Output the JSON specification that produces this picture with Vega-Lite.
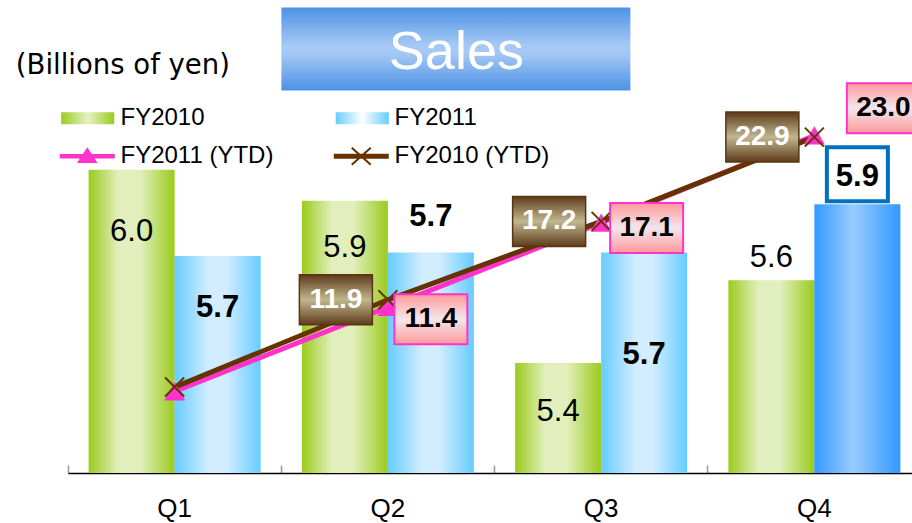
{
  "$schema": "https://vega.github.io/schema/vega-lite/v6.json",
  "width": 853,
  "height": 473,
  "autosize": {"type": "none"},
  "padding": {"left": 68, "top": 0, "right": -9, "bottom": 50},
  "background": "white",
  "config": {"view": {"stroke": null}, "font": "Liberation Sans"},
  "encoding": {
    "x": {"field": "quarter", "type": "nominal", "scale": {"paddingInner": 0, "paddingOuter": 0},
      "axis": {"title": null, "domainColor": "black", "domainWidth": 1.5, "tickColor": "#9a9a9a", "tickWidth": 1.5, "tickSize": -8, "bandPosition": 0, "labelFont": "Liberation Sans", "labelFontSize": 26, "labelColor": "black", "labelPadding": 30, "labelAngle": 0, "grid": false}}
  },
  "layer": [
    {
      "data": {"values": [
        {"quarter": "Q1", "series": "FY2010", "value": 5.96},
        {"quarter": "Q2", "series": "FY2010", "value": 5.87},
        {"quarter": "Q3", "series": "FY2010", "value": 5.40},
        {"quarter": "Q4", "series": "FY2010", "value": 5.64},
        {"quarter": "Q1", "series": "FY2011", "value": 5.71},
        {"quarter": "Q2", "series": "FY2011", "value": 5.72},
        {"quarter": "Q3", "series": "FY2011", "value": 5.72},
        {"quarter": "Q4", "series": "FY2011", "value": 5.86}
      ]},
      "encoding": {
        "xOffset": {"field": "series", "type": "nominal", "scale": {"domain": ["FY2010", "FY2011"], "paddingInner": 0, "paddingOuter": 0.24}},
        "y": {"field": "value", "type": "quantitative", "scale": {"domain": [5.081, 6.452], "zero": false, "nice": false}, "axis": null}
      },
      "layer": [
        {"transform": [{"filter": "datum.series === 'FY2010'"}],
         "mark": {"type": "bar", "clip": true, "fill": {"gradient": "linear", "x1": 0, "y1": 0, "x2": 1, "y2": 0, "stops": [{"offset": 0, "color": "#9acb1c"}, {"offset": 0.35, "color": "#e2efbd"}, {"offset": 0.6, "color": "#e2efbd"}, {"offset": 1, "color": "#9acb1c"}]}}},
        {"transform": [{"filter": "datum.series === 'FY2011' && datum.quarter !== 'Q4'"}],
         "mark": {"type": "bar", "clip": true, "fill": {"gradient": "linear", "x1": 0, "y1": 0, "x2": 1, "y2": 0, "stops": [{"offset": 0, "color": "#66ccff"}, {"offset": 0.4, "color": "#d2edff"}, {"offset": 0.6, "color": "#d2edff"}, {"offset": 1, "color": "#66ccff"}]}}},
        {"transform": [{"filter": "datum.series === 'FY2011' && datum.quarter === 'Q4'"}],
         "mark": {"type": "bar", "clip": true, "fill": {"gradient": "linear", "x1": 0, "y1": 0, "x2": 1, "y2": 0, "stops": [{"offset": 0, "color": "#3399ff"}, {"offset": 0.45, "color": "#99ccff"}, {"offset": 1, "color": "#3399ff"}]}}},
        {"transform": [{"filter": "datum.series === 'FY2011' && datum.quarter === 'Q4'"}],
         "mark": {"type": "point", "shape": "M-1,-0.885H1V0.885H-1Z", "size": 3721, "filled": true, "fill": "white", "stroke": "#0070c0", "strokeWidth": 4, "opacity": 1, "yOffset": -30}},
        {"transform": [{"filter": "datum.series === 'FY2010' && datum.quarter === 'Q1'"}],
         "mark": {"type": "text", "dy": 62, "fontSize": 31, "baseline": "middle", "color": "black"},
         "encoding": {"text": {"field": "value", "type": "quantitative", "format": ".1f"}}},
        {"transform": [{"filter": "datum.series === 'FY2010' && datum.quarter === 'Q2'"}],
         "mark": {"type": "text", "dy": 47, "fontSize": 31, "baseline": "middle", "color": "black"},
         "encoding": {"text": {"field": "value", "type": "quantitative", "format": ".1f"}}},
        {"transform": [{"filter": "datum.series === 'FY2010' && datum.quarter === 'Q3'"}],
         "mark": {"type": "text", "dy": 49, "fontSize": 31, "baseline": "middle", "color": "black"},
         "encoding": {"text": {"field": "value", "type": "quantitative", "format": ".1f"}}},
        {"transform": [{"filter": "datum.series === 'FY2010' && datum.quarter === 'Q4'"}],
         "mark": {"type": "text", "dy": -22, "fontSize": 31, "baseline": "middle", "color": "black"},
         "encoding": {"text": {"field": "value", "type": "quantitative", "format": ".1f"}}},
        {"transform": [{"filter": "datum.series === 'FY2011' && datum.quarter === 'Q1'"}],
         "mark": {"type": "text", "dy": 52, "fontSize": 31, "fontWeight": "bold", "baseline": "middle", "color": "black"},
         "encoding": {"text": {"field": "value", "type": "quantitative", "format": ".1f"}}},
        {"transform": [{"filter": "datum.series === 'FY2011' && datum.quarter === 'Q2'"}],
         "mark": {"type": "text", "dy": -35.5, "fontSize": 31, "fontWeight": "bold", "baseline": "middle", "color": "black"},
         "encoding": {"text": {"field": "value", "type": "quantitative", "format": ".1f"}}},
        {"transform": [{"filter": "datum.series === 'FY2011' && datum.quarter === 'Q3'"}],
         "mark": {"type": "text", "dy": 102.5, "fontSize": 31, "fontWeight": "bold", "baseline": "middle", "color": "black"},
         "encoding": {"text": {"field": "value", "type": "quantitative", "format": ".1f"}}},
        {"transform": [{"filter": "datum.series === 'FY2011' && datum.quarter === 'Q4'"}],
         "mark": {"type": "text", "dy": -27, "fontSize": 31, "fontWeight": "bold", "baseline": "middle", "color": "black"},
         "encoding": {"text": {"field": "value", "type": "quantitative", "format": ".1f"}}}
      ]
    },
    {
      "data": {"values": [
        {"quarter": "Q1", "series": "FY2011 (YTD)", "value": 5.7},
        {"quarter": "Q2", "series": "FY2011 (YTD)", "value": 11.4},
        {"quarter": "Q3", "series": "FY2011 (YTD)", "value": 17.1},
        {"quarter": "Q4", "series": "FY2011 (YTD)", "value": 23.0},
        {"quarter": "Q1", "series": "FY2010 (YTD)", "value": 6.0},
        {"quarter": "Q2", "series": "FY2010 (YTD)", "value": 11.9},
        {"quarter": "Q3", "series": "FY2010 (YTD)", "value": 17.2},
        {"quarter": "Q4", "series": "FY2010 (YTD)", "value": 22.9}
      ]},
      "encoding": {
        "y": {"field": "value", "type": "quantitative", "scale": {"domain": [0.19, 32.17], "zero": false, "nice": false}, "axis": null}
      },
      "layer": [
        {"transform": [{"filter": "datum.quarter === 'Q2' && datum.series === 'FY2011 (YTD)'"}],
         "encoding": {"y": {"datum": 28.86, "type": "quantitative"}},
         "layer": [
           {"mark": {"type": "point", "shape": "M-1,-0.238H1V0.238H-1Z", "size": 121801, "filled": true, "opacity": 1, "strokeWidth": 0, "xOffset": 68,
             "fill": {"gradient": "linear", "x1": 0, "y1": 0, "x2": 0, "y2": 1, "stops": [{"offset": 0, "color": "#4d92e6"}, {"offset": 0.45, "color": "#a5c8f4"}, {"offset": 0.55, "color": "#a5c8f4"}, {"offset": 1, "color": "#4d92e6"}]}}},
           {"mark": {"type": "text", "xOffset": 68.5, "dy": 20, "baseline": "alphabetic", "fontSize": 54, "color": "white"},
            "encoding": {"text": {"value": "Sales"}}},
           {"mark": {"type": "text", "xOffset": -265, "dy": 25, "baseline": "alphabetic", "align": "center", "font": "DejaVu Sans", "fontSize": 27.5, "color": "black"},
            "encoding": {"text": {"value": "(Billions of yen)"}}}
         ]},
        {"transform": [{"filter": "datum.series === 'FY2011 (YTD)'"}],
         "mark": {"type": "line", "strokeWidth": 5, "strokeCap": "round", "color": "#ff33cc"}},
        {"transform": [{"filter": "datum.series === 'FY2010 (YTD)'"}],
         "mark": {"type": "line", "strokeWidth": 5, "strokeCap": "round", "color": "#663300"}},
        {"transform": [{"filter": "datum.series === 'FY2011 (YTD)'"}],
         "mark": {"type": "point", "shape": "M0,-0.9L1,0.85H-1Z", "size": 441, "filled": true, "fill": "#ff33cc", "strokeWidth": 0, "opacity": 1}},
        {"transform": [{"filter": "datum.series === 'FY2010 (YTD)'"}],
         "mark": {"type": "point", "shape": "M-1,-1L1,1M-1,1L1,-1", "size": 361, "filled": false, "stroke": "#663300", "strokeWidth": 2, "opacity": 1}},
        {"transform": [{"filter": "datum.series === 'FY2010 (YTD)' && datum.quarter !== 'Q1'"}],
         "mark": {"type": "point", "shape": "M-1,-0.685H1V0.685H-1Z", "size": 5329, "filled": true, "opacity": 1, "xOffset": -52, "stroke": "#5b3412", "strokeWidth": 1.5,
           "fill": {"gradient": "linear", "x1": 0, "y1": 0, "x2": 0, "y2": 1, "stops": [{"offset": 0, "color": "#5e3b1a"}, {"offset": 0.5, "color": "#c0b78f"}, {"offset": 1, "color": "#5e3b1a"}]}}},
        {"transform": [{"filter": "datum.series === 'FY2010 (YTD)' && datum.quarter !== 'Q1'"}],
         "mark": {"type": "text", "xOffset": -52, "fontSize": 28, "fontWeight": "bold", "baseline": "middle", "color": "white"},
         "encoding": {"text": {"field": "value", "type": "quantitative", "format": ".1f"}}},
        {"transform": [{"filter": "datum.series === 'FY2011 (YTD)' && datum.quarter === 'Q2'"}],
         "mark": {"type": "point", "shape": "M-1,-0.685H1V0.685H-1Z", "size": 5329, "filled": true, "opacity": 1, "xOffset": 43, "yOffset": 12, "stroke": "#ff33cc", "strokeWidth": 2,
           "fill": {"gradient": "linear", "x1": 0, "y1": 0, "x2": 0, "y2": 1, "stops": [{"offset": 0, "color": "#ff9999"}, {"offset": 0.5, "color": "#f3e6ec"}, {"offset": 1, "color": "#ff9999"}]}}},
        {"transform": [{"filter": "datum.series === 'FY2011 (YTD)' && datum.quarter === 'Q3'"}],
         "mark": {"type": "point", "shape": "M-1,-0.685H1V0.685H-1Z", "size": 5329, "filled": true, "opacity": 1, "xOffset": 45.5, "yOffset": 5, "stroke": "#ff33cc", "strokeWidth": 2,
           "fill": {"gradient": "linear", "x1": 0, "y1": 0, "x2": 0, "y2": 1, "stops": [{"offset": 0, "color": "#ff9999"}, {"offset": 0.5, "color": "#f3e6ec"}, {"offset": 1, "color": "#ff9999"}]}}},
        {"transform": [{"filter": "datum.series === 'FY2011 (YTD)' && datum.quarter === 'Q4'"}],
         "mark": {"type": "point", "shape": "M-1,-0.685H1V0.685H-1Z", "size": 5329, "filled": true, "opacity": 1, "xOffset": 69, "yOffset": -27.5, "stroke": "#ff33cc", "strokeWidth": 2,
           "fill": {"gradient": "linear", "x1": 0, "y1": 0, "x2": 0, "y2": 1, "stops": [{"offset": 0, "color": "#ff9999"}, {"offset": 0.5, "color": "#f3e6ec"}, {"offset": 1, "color": "#ff9999"}]}}},
        {"transform": [{"filter": "datum.series === 'FY2011 (YTD)' && datum.quarter === 'Q2'"}],
         "mark": {"type": "text", "xOffset": 43, "yOffset": 12, "fontSize": 28, "fontWeight": "bold", "baseline": "middle", "color": "black"},
         "encoding": {"text": {"field": "value", "type": "quantitative", "format": ".1f"}}},
        {"transform": [{"filter": "datum.series === 'FY2011 (YTD)' && datum.quarter === 'Q3'"}],
         "mark": {"type": "text", "xOffset": 45.5, "yOffset": 5, "fontSize": 28, "fontWeight": "bold", "baseline": "middle", "color": "black"},
         "encoding": {"text": {"field": "value", "type": "quantitative", "format": ".1f"}}},
        {"transform": [{"filter": "datum.series === 'FY2011 (YTD)' && datum.quarter === 'Q4'"}],
         "mark": {"type": "text", "xOffset": 69, "yOffset": -27.5, "fontSize": 28, "fontWeight": "bold", "baseline": "middle", "color": "black"},
         "encoding": {"text": {"field": "value", "type": "quantitative", "format": ".1f"}}},
        {"transform": [{"filter": "false"}],
         "mark": {"type": "point", "filled": true, "opacity": 1, "strokeWidth": 0,
           "color": {"gradient": "linear", "x1": 0, "y1": 0, "x2": 1, "y2": 0, "stops": [{"offset": 0, "color": "#9acb1c"}, {"offset": 0.5, "color": "#e6f2c6"}, {"offset": 1, "color": "#9acb1c"}]},
           "fill": {"gradient": "linear", "x1": 0, "y1": 0, "x2": 1, "y2": 0, "stops": [{"offset": 0, "color": "#9acb1c"}, {"offset": 0.5, "color": "#e6f2c6"}, {"offset": 1, "color": "#9acb1c"}]}},
         "encoding": {"shape": {"field": "series", "type": "nominal", "scale": {"domain": ["FY2010"], "range": ["M-1.93,-0.44H1.93V0.44H-1.93Z"]},
           "legend": {"orient": "none", "legendX": 5.75, "legendY": 104.25, "title": null, "padding": 0, "symbolSize": 756, "symbolStrokeWidth": 0, "labelFont": "Liberation Sans", "labelFontSize": 24, "labelColor": "black", "labelOffset": 18.75}}}},
        {"transform": [{"filter": "false"}],
         "mark": {"type": "point", "filled": true, "opacity": 1, "strokeWidth": 0,
           "color": {"gradient": "linear", "x1": 0, "y1": 0, "x2": 1, "y2": 0, "stops": [{"offset": 0, "color": "#66ccff"}, {"offset": 0.5, "color": "#ffffff"}, {"offset": 1, "color": "#66ccff"}]},
           "fill": {"gradient": "linear", "x1": 0, "y1": 0, "x2": 1, "y2": 0, "stops": [{"offset": 0, "color": "#66ccff"}, {"offset": 0.5, "color": "#ffffff"}, {"offset": 1, "color": "#66ccff"}]}},
         "encoding": {"shape": {"field": "series", "type": "nominal", "scale": {"domain": ["FY2011"], "range": ["M-1.93,-0.44H1.93V0.44H-1.93Z"]},
           "legend": {"orient": "none", "legendX": 280.25, "legendY": 104.25, "title": null, "padding": 0, "symbolSize": 756, "symbolStrokeWidth": 0, "labelFont": "Liberation Sans", "labelFontSize": 24, "labelColor": "black", "labelOffset": 18.25}}}},
        {"transform": [{"filter": "false"}],
         "mark": {"type": "point", "filled": true, "opacity": 1, "strokeWidth": 0, "color": "#ff33cc", "fill": "#ff33cc"},
         "encoding": {"shape": {"field": "series", "type": "nominal", "scale": {"domain": ["FY2011 (YTD)"], "range": ["M-2,-0.16V0.16H2V-0.16ZM0,-0.65L-0.75,0.5H0.75Z"]},
           "legend": {"orient": "none", "legendX": 5.25, "legendY": 142.25, "title": null, "padding": 0, "symbolSize": 756, "symbolStrokeWidth": 0, "labelFont": "Liberation Sans", "labelFontSize": 24, "labelColor": "black", "labelOffset": 19.25}}}},
        {"transform": [{"filter": "false"}],
         "mark": {"type": "point", "filled": true, "opacity": 1, "strokeWidth": 0, "color": "#663300", "fill": "#663300"},
         "encoding": {"shape": {"field": "series", "type": "nominal", "scale": {"domain": ["FY2010 (YTD)"], "range": ["M-2,-0.18V0.18H2V-0.18ZM-0.74,-0.564L0.64,0.676L0.74,0.564L-0.64,-0.676ZM-0.64,0.676L0.74,-0.564L0.64,-0.676L-0.74,0.564Z"]},
           "legend": {"orient": "none", "legendX": 279.25, "legendY": 142.25, "title": null, "padding": 0, "symbolSize": 756, "symbolStrokeWidth": 0, "labelFont": "Liberation Sans", "labelFontSize": 24, "labelColor": "black", "labelOffset": 19.25}}}}
      ],
      "resolve": {"scale": {"shape": "independent"}, "legend": {"shape": "independent"}}
    }
  ],
  "resolve": {"scale": {"y": "independent"}, "axis": {"y": "independent"}}
}
